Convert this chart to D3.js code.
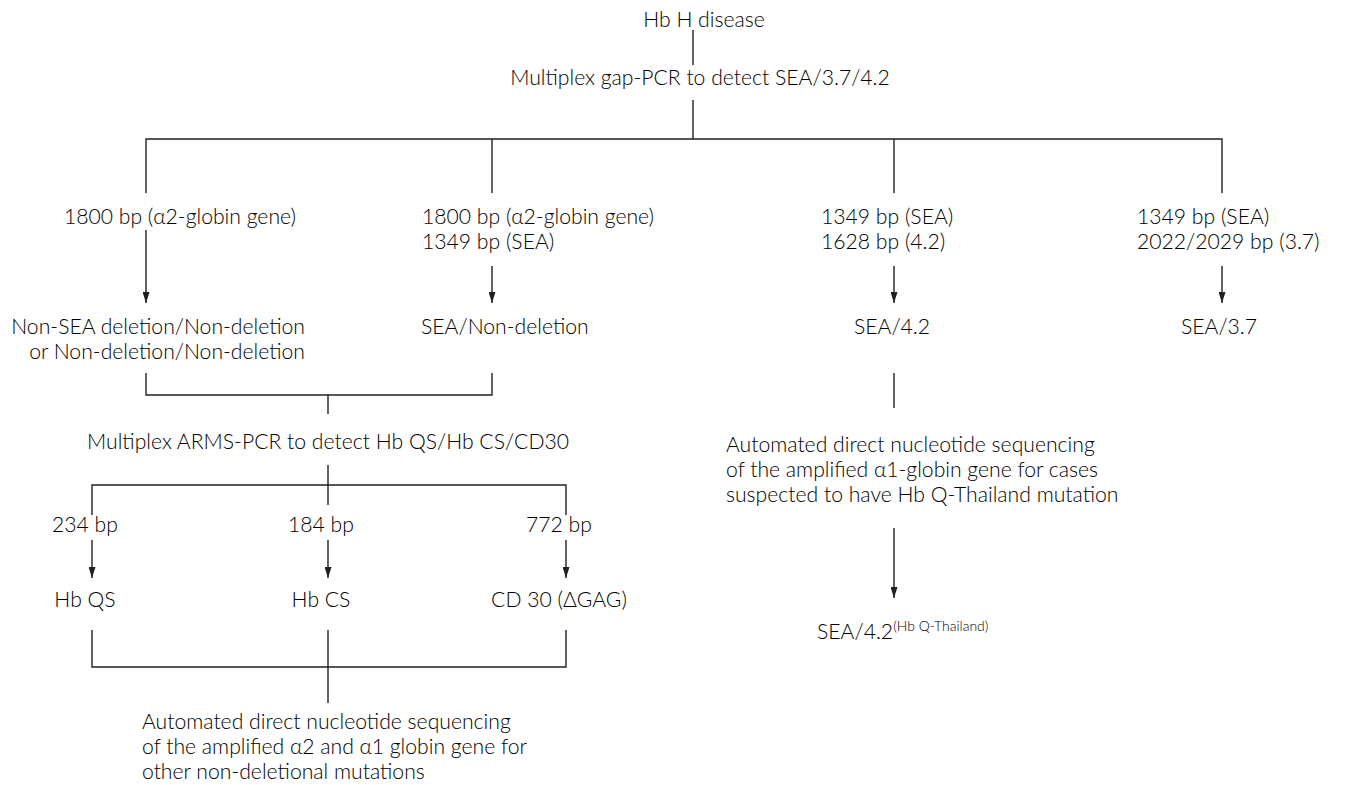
<!DOCTYPE html>
<html>
<head>
<meta charset="utf-8">
<script src="https://cdn.jsdelivr.net/npm/d3@7"></script>
<style>
  body { margin: 0; background: #fff; }
  text { font-family: Lato, "Open Sans", sans-serif; font-weight: 300; fill: #000; }
</style>
</head>
<body>
<div id="chart"></div>
<script>
// ---- labels of the flowchart ----
const rootLabel = ["Hb H disease"];
const gapPcrLabel = ["Multiplex gap-PCR to detect SEA/3.7/4.2"];
const bandLabels = [
  ["1800 bp (α2-globin gene)"],
  ["1800 bp (α2-globin gene)", "1349 bp (SEA)"],
  ["1349 bp (SEA)", "1628 bp (4.2)"],
  ["1349 bp (SEA)", "2022/2029 bp (3.7)"]
];
const genotypeLabels = [
  ["Non-SEA deletion/Non-deletion", "or Non-deletion/Non-deletion"],
  ["SEA/Non-deletion"],
  ["SEA/4.2"],
  ["SEA/3.7"]
];
const armsLabel = ["Multiplex ARMS-PCR to detect Hb QS/Hb CS/CD30"];
const armsBands = ["234 bp", "184 bp", "772 bp"];
const armsResults = ["Hb QS", "Hb CS", "CD 30 (ΔGAG)"];
const seqLeftLines = [
  "Automated direct nucleotide sequencing",
  "of the amplified α2 and α1 globin gene for",
  "other non-deletional mutations"
];
const seqRightLines = [
  "Automated direct nucleotide sequencing",
  "of the amplified α1-globin gene for cases",
  "suspected to have Hb Q-Thailand mutation"
];
const qThaiLabel = "SEA/4.2";
const qThaiSup = "(Hb Q-Thailand)";

const topCols = ["c1", "c2", "c3", "c4"];
const armsCols = ["q1", "q2", "q3"];

// ---- layout scales ----
const width = 1350, height = 785;
const ink = "#231f20";

const x = d3.scaleOrdinal()
  .domain(["top", ...topCols, ...armsCols])
  .range([693, 146, 492, 894, 1222, 92, 328, 566]);

const y = d3.scaleOrdinal()
  .domain(["root", "rootEnd", "gapOut", "split", "drop", "arrowA", "arrowB", "arrowEnd",
           "bracketTop", "bracket", "armsIn", "armsOut", "split2", "midEnd", "drop2",
           "arrow2", "arrow2End", "resTop", "bracket3", "seqIn",
           "rightEnd", "rightArrow", "rightArrowEnd"])
  .range([30, 65, 100, 139, 193, 230, 266, 303,
          373, 395, 414, 465, 485, 505, 515,
          540, 578, 630, 667, 703,
          408, 528, 598]);

const svg = d3.select("#chart").append("svg")
  .attr("width", width)
  .attr("height", height);

// arrow head, pointing along the path
svg.append("defs").append("marker")
  .attr("id", "head")
  .attr("viewBox", "0 0 11 7")
  .attr("refX", 11)
  .attr("refY", 3.5)
  .attr("markerWidth", 11)
  .attr("markerHeight", 7)
  .attr("markerUnits", "userSpaceOnUse")
  .attr("orient", "auto")
  .append("path")
  .attr("d", "M0,0L11,3.5L0,7Z")
  .attr("fill", ink);

// connectors: lists of [column, row] points
const connectors = [
  {pts: [["top", "root"], ["top", "rootEnd"]]},
  {pts: [["top", "gapOut"], ["top", "split"]]},
  {pts: [["c1", "drop"], ["c1", "split"], ["c4", "split"], ["c4", "drop"]]},
  {pts: [["c2", "split"], ["c2", "drop"]]},
  {pts: [["c3", "split"], ["c3", "drop"]]},
  {pts: [["c1", "arrowA"], ["c1", "arrowEnd"]], arrow: true},
  {pts: [["c2", "arrowB"], ["c2", "arrowEnd"]], arrow: true},
  {pts: [["c3", "arrowB"], ["c3", "arrowEnd"]], arrow: true},
  {pts: [["c4", "arrowB"], ["c4", "arrowEnd"]], arrow: true},
  {pts: [["c1", "bracketTop"], ["c1", "bracket"], ["c2", "bracket"], ["c2", "bracketTop"]]},
  {pts: [["q2", "bracket"], ["q2", "armsIn"]]},
  {pts: [["q2", "armsOut"], ["q2", "midEnd"]]},
  {pts: [["q1", "drop2"], ["q1", "split2"], ["q3", "split2"], ["q3", "drop2"]]},
  ...armsCols.map(c => ({pts: [[c, "arrow2"], [c, "arrow2End"]], arrow: true})),
  {pts: [["q1", "resTop"], ["q1", "bracket3"], ["q3", "bracket3"], ["q3", "resTop"]]},
  {pts: [["q2", "resTop"], ["q2", "seqIn"]]},
  {pts: [["c3", "bracketTop"], ["c3", "rightEnd"]]},
  {pts: [["c3", "rightArrow"], ["c3", "rightArrowEnd"]], arrow: true}
];

const line = d3.line()
  .x(d => x(d[0]))
  .y(d => y(d[1]));

svg.append("g")
  .selectAll("path")
  .data(connectors)
  .join("path")
  .attr("d", d => line(d.pts))
  .attr("fill", "none")
  .attr("stroke", ink)
  .attr("stroke-width", 1.4)
  .attr("marker-end", d => d.arrow ? "url(#head)" : null);

// text blocks: column, centre of first line, anchor, offset
const blocks = [
  {lines: rootLabel, col: "top", cy: 20, anchor: "middle", dx: 11},
  {lines: gapPcrLabel, col: "top", cy: 78, anchor: "middle", dx: 7},
  {lines: bandLabels[0], col: "c1", cy: 217, anchor: "middle", dx: 34},
  {lines: bandLabels[1], col: "c2", cy: 217, anchor: "start", dx: -70},
  {lines: bandLabels[2], col: "c3", cy: 217, anchor: "start", dx: -73},
  {lines: bandLabels[3], col: "c4", cy: 217, anchor: "start", dx: -85},
  {lines: genotypeLabels[0], col: "c1", cy: 327, anchor: "end", dx: 159},
  {lines: genotypeLabels[1], col: "c2", cy: 327, anchor: "start", dx: -71},
  {lines: genotypeLabels[2], col: "c3", cy: 327, anchor: "middle", dx: -2},
  {lines: genotypeLabels[3], col: "c4", cy: 327, anchor: "middle", dx: -3},
  {lines: armsLabel, col: "q2", cy: 442, anchor: "middle", dx: 0},
  ...armsCols.map((c, i) => ({lines: [armsBands[i]], col: c, cy: 525, anchor: "middle", dx: -7})),
  ...armsCols.map((c, i) => ({lines: [armsResults[i]], col: c, cy: 600, anchor: "middle", dx: -7})),
  {lines: seqLeftLines, col: "q2", cy: 722, anchor: "start", dx: -186},
  {lines: seqRightLines, col: "c3", cy: 445, anchor: "start", dx: -168}
];

// fit the font so the sequencing line matches the picture width
const probe = svg.append("text").attr("font-size", 18).text(seqLeftLines[0]);
const fontSize = 18 * 369 / probe.node().getComputedTextLength();
probe.remove();
const lineGap = 25;

const labels = svg.append("g")
  .attr("font-size", fontSize)
  .selectAll("text")
  .data(blocks)
  .join("text")
  .attr("text-anchor", d => d.anchor)
  .attr("x", d => x(d.col) + d.dx)
  .attr("y", d => d.cy);

labels.selectAll("tspan")
  .data(d => d.lines.map(t => ({t, d})))
  .join("tspan")
  .attr("x", e => x(e.d.col) + e.d.dx)
  .attr("dy", (e, i) => i === 0 ? "0.35em" : lineGap)
  .text(e => e.t);

// SEA/4.2 with Hb Q-Thailand superscript
const q = svg.append("text")
  .attr("font-size", fontSize)
  .attr("x", x("c3") - 77)
  .attr("y", 632)
  .attr("dy", "0.35em");
q.append("tspan").text(qThaiLabel);
q.append("tspan")
  .attr("font-size", fontSize * 0.66)
  .attr("dy", -8)
  .text(qThaiSup);
</script>
</body>
</html>
